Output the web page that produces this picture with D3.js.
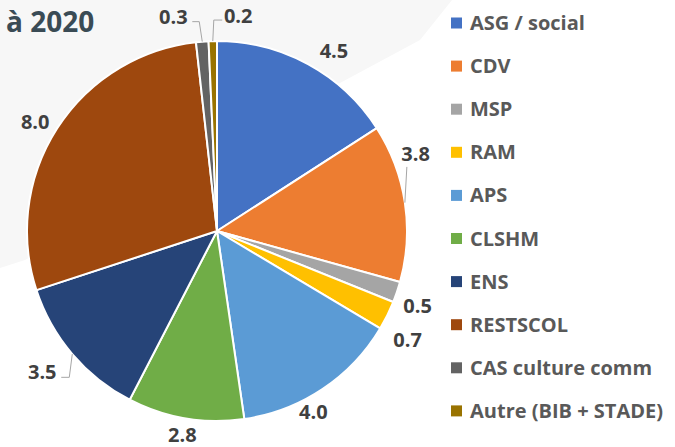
<!DOCTYPE html>
<html><head><meta charset="utf-8">
<script src="https://cdn.jsdelivr.net/npm/d3@7"></script>
<style>html,body{margin:0;padding:0;background:#fff;}svg{display:block;}</style>
</head><body>
<svg id="c" width="675" height="447"></svg>
<script>
// ---- data ----
const categories = ["ASG / social","CDV","MSP","RAM","APS","CLSHM","ENS","RESTSCOL","CAS culture comm","Autre (BIB + STADE)"];
const values = [4.5, 3.8, 0.5, 0.7, 4.0, 2.8, 3.5, 8.0, 0.3, 0.2];
const colors = ["#4472C4","#ED7D31","#A5A5A5","#FFC000","#5B9BD5","#70AD47","#264478","#9E480E","#636363","#997300"];
const title = "à 2020";

// ---- layout (not data) ----
const cx = 217, cy = 231, R = 190, labelR = 215;
const labelNudge = [[14,9],[-14,-45],[-3,6],[-2,13],[-23,2],[1,-8],[-11,2],[-1,7],[-27,0],[26,0]];
const leaderType = [null,"below",null,null,null,null,"right",null,"right","left"];

const svg = d3.select("#c");
// background shape
svg.append("path")
  .attr("d", "M0,0 L452,0 L420,40 L340,83 L25,260 L0,268 Z")
  .attr("fill", "#f7f7f7");

svg.append("text").attr("x", 6).attr("y", 32)
  .attr("font-family", "'Open Sans', sans-serif").attr("font-weight", 700)
  .attr("font-size", 28).attr("fill", "#3a4b55").text(title);

const pie = d3.pie().sort(null).value(d => d)(values);
const arc = d3.arc().innerRadius(0).outerRadius(R);
const g = svg.append("g").attr("transform", `translate(${cx},${cy})`);
g.selectAll("path.s").data(pie).enter().append("path")
  .attr("d", arc).attr("fill", (d,i) => colors[i])
  .attr("stroke", "#fff").attr("stroke-width", 2).attr("stroke-linejoin","round");

const fmt = d3.format(".1f");
pie.forEach((d, i) => {
  const a = (d.startAngle + d.endAngle) / 2;
  const lx = labelR * Math.sin(a) + labelNudge[i][0];
  const ly = -labelR * Math.cos(a) + labelNudge[i][1];
  const ax = R * Math.sin(a), ay = -R * Math.cos(a);
  g.append("text").attr("x", lx).attr("y", ly).attr("dy", "0.35em")
    .attr("text-anchor", "middle")
    .attr("font-family", "'Open Sans', sans-serif").attr("font-weight", 700)
    .attr("font-size", 20).attr("fill", "#404040").text(fmt(values[i]));
  const t = leaderType[i];
  let pts = null;
  if (t === "below") pts = [[ax + 2, ly + 13], [ax, ay]];
  else if (t === "right") pts = [[lx + 19, ly + 5], [ax - 3, ly + 5], [ax, ay]];
  else if (t === "left") pts = [[lx - 16, ly + 4], [ax + 1, ly + 4], [ax, ay]];
  if (pts) g.append("path").attr("d", d3.line()(pts))
    .attr("fill", "none").attr("stroke", "#a6a6a6").attr("stroke-width", 1);
});

// legend
const lg = svg.append("g");
categories.forEach((c, i) => {
  const y = 23 + i * 43.1;
  lg.append("rect").attr("x", 451).attr("y", y - 5.5).attr("width", 11).attr("height", 11).attr("fill", colors[i]);
  lg.append("text").attr("x", 470).attr("y", y).attr("dy", "0.35em")
    .attr("font-family", "'Open Sans', sans-serif").attr("font-weight", 700)
    .attr("font-size", 20).attr("fill", "#595959").text(c);
});
</script>
</body></html>
